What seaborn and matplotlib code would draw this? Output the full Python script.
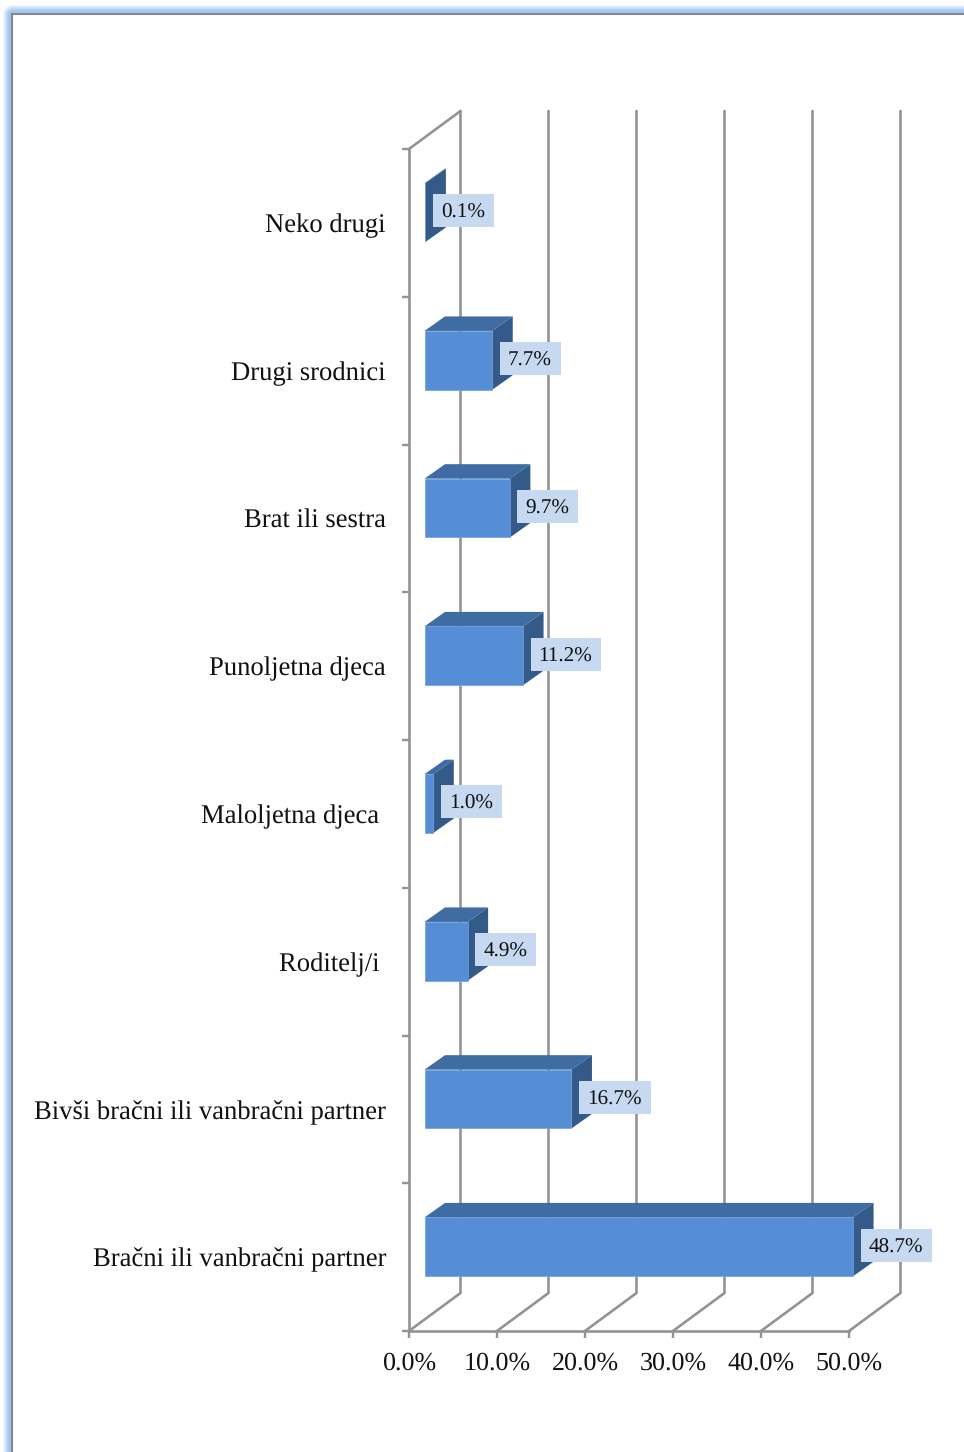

import matplotlib
matplotlib.use("Agg")
import matplotlib.pyplot as plt
from matplotlib.patches import Polygon, Rectangle, FancyBboxPatch
from matplotlib.transforms import IdentityTransform
import numpy as np
import pandas as pd
import seaborn as sns

# Chart data, top to bottom
categories = ["Neko drugi", "Drugi srodnici", "Brat ili sestra", "Punoljetna djeca",
              "Maloljetna djeca ", "Roditelj/i ", "Bivši bračni ili vanbračni partner",
              "Bračni ili vanbračni partner"]
shares = [0.1, 7.7, 9.7, 11.2, 1.0, 4.9, 16.7, 48.7]
share_labels = ["0.1%", "7.7%", "9.7%", "11.2%", "1.0%", "4.9%", "16.7%", "48.7%"]
x_ticks = [0, 10, 20, 30, 40, 50]
x_tick_labels = ["0.0%", "10.0%", "20.0%", "30.0%", "40.0%", "50.0%"]

sns.set_style("white")
plt.rcParams["font.family"] = ["Liberation Serif", "DejaVu Serif"]
plt.rcParams["text.hinting"] = "no_hinting"

W, H = 964, 1452
fig = plt.figure(figsize=(W / 100, H / 100), dpi=100, facecolor="white")

# Blue glow and grey border of the text box around the chart
glow = "#a4c8f2"
for k in range(9, 0, -1):
    a = min(1, (1 - k / 10) * 1.7)
    col = np.array(matplotlib.colors.to_rgb(glow)) * a + (1 - a)
    fig.add_artist(FancyBboxPatch((12 - k, -40), W + 60, H + 40 - (14 - k),
                                  boxstyle=f"round,pad=0,rounding_size={k + 2}",
                                  transform=IdentityTransform(), fc=col, ec="none", zorder=-3))
fig.add_artist(Rectangle((12, -40), W + 60, H + 40 - 14, transform=IdentityTransform(),
                         fc="white", ec="#868686", lw=1.5, zorder=-2))

ax = fig.add_axes([409 / W, (H - 1331) / H, 440 / W, 1182 / H])
ax.patch.set_visible(False)
df = pd.DataFrame({"category": categories, "share": shares})

grey = "#939393"
front, top, side = "#558ed5", "#3f6ca3", "#345a8a"

sns.barplot(data=df, x="share", y="category", orient="h", color=front, saturation=1,
            width=0.398, ax=ax, zorder=4, edgecolor="#6f9fdc", linewidth=0.5, clip_on=False)

ax.set_xlim(0, 50)
ax.set_ylim(7.5, -0.5)
sx, sy = 440 / 50, 1182 / 8   # pixels per data unit

# Back wall and floor of the 3D box
wall_x, wall_y = 51.5 / sx, 38 / sy
for t in x_ticks:
    ax.plot([t, t + wall_x, t + wall_x], [7.5, 7.5 - wall_y, -0.5 - wall_y], color=grey,
            lw=1.9, clip_on=False, zorder=1, solid_joinstyle="miter")
ax.plot([0, wall_x], [-0.5, -0.5 - wall_y], color=grey, lw=1.9, clip_on=False, zorder=1)

# Move bars onto the floor depth and add their top and side faces
shift_x, shift_y = 15.5 / sx, 10.3 / sy
depth_x, depth_y = 20.5 / sx, 14.5 / sy
bars = list(ax.patches)
for p, share, label in zip(bars, shares, share_labels):
    p.set_x(p.get_x() + shift_x)
    p.set_y(p.get_y() - shift_y)
    x0, x1 = p.get_x(), p.get_x() + p.get_width()
    y0, y1 = p.get_y(), p.get_y() + p.get_height()
    ax.add_patch(Polygon([(x0, y0), (x1, y0), (x1 + depth_x, y0 - depth_y), (x0 + depth_x, y0 - depth_y)],
                         fc=top, ec="none", clip_on=False, zorder=3))
    ax.add_patch(Polygon([(x1, y0), (x1 + depth_x, y0 - depth_y), (x1 + depth_x, y1 - depth_y), (x1, y1)],
                         fc=side, ec="none", clip_on=False, zorder=3))
    # Value label on its pale blue box
    yc = (y0 + y1) / 2 - 1.8 / sy
    txt = ax.text(x1 + 15.5 / sx, yc, label, fontsize=15.2, ha="left", va="center_baseline",
                  color="#111111", zorder=6, clip_on=False)
    w = txt.get_window_extent(fig.canvas.get_renderer()).width
    ax.add_patch(Rectangle((x1 + 7.5 / sx, yc - 16.5 / sy), (w + 17) / sx, 33 / sy, fc="#c6d9f1",
                           ec="none", clip_on=False, zorder=5))

for s in ["top", "right"]:
    ax.spines[s].set_visible(False)
for s in ["left", "bottom"]:
    ax.spines[s].set_color(grey)
    ax.spines[s].set_linewidth(1.9)

ax.set_xlabel("")
ax.set_ylabel("")
ax.set_xticks(x_ticks)
ax.set_xticklabels(x_tick_labels, fontsize=18.7, color="#111111")
ax.set_yticks(np.arange(-0.5, 8, 1), minor=True)
ax.tick_params(axis="x", which="major", bottom=True, length=5, width=1.7, color=grey, pad=10)
ax.tick_params(axis="y", which="minor", left=True, length=5, width=1.7, color=grey)
ax.tick_params(axis="y", which="major", left=False, length=0, pad=23 * 0.72, labelsize=19.2, labelcolor="#111111")

fig.savefig("out.png", dpi=100)
